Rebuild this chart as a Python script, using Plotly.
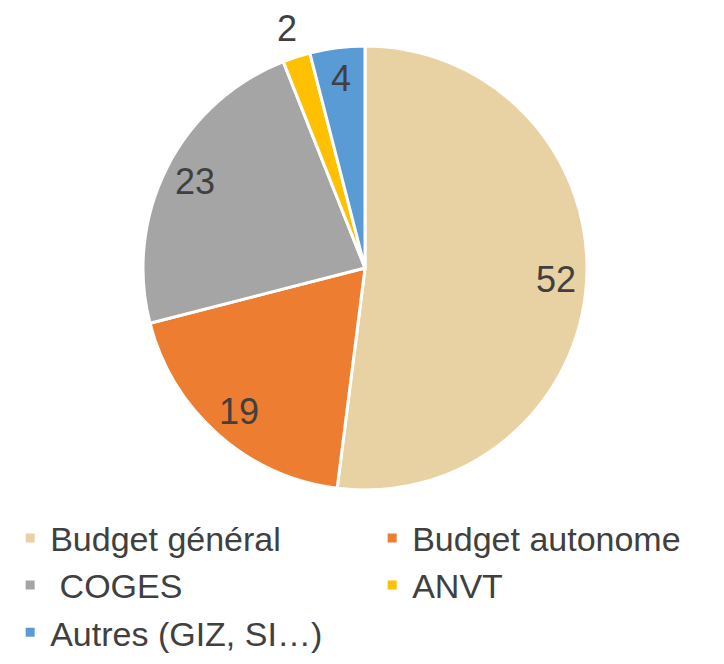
import math
import plotly.graph_objects as go

labels = ["Budget général", "Budget autonome", " COGES", "ANVT", "Autres (GIZ, SI…)"]
values = [52, 19, 23, 2, 4]
colors = ["#E8D2A4", "#ED7D31", "#A5A5A5", "#FFC000", "#5B9BD5"]

W, H = 724, 664
# page body adds an 8px offset; target pie centre on screen is (365, 268)
cx, cy, R = 357, 260, 222
FONT = "Liberation Sans, Arial, sans-serif"
TXT = "#404040"

fig = go.Figure(go.Pie(
    labels=labels,
    values=values,
    sort=False,
    direction="clockwise",
    rotation=0,
    marker=dict(colors=colors, line=dict(color="white", width=3)),
    textinfo="none",
    domain=dict(x=[(cx - R) / W, (cx + R) / W], y=[1 - (cy + R) / H, 1 - (cy - R) / H]),
    hoverinfo="label+value",
))

# value labels placed from the data (angles from cumulative shares)
total = sum(values)
cum = 0
annotations = []
for v in values:
    mid = (cum + v / 2) / total * 2 * math.pi
    cum += v
    f = 0.86 if v / total >= 0.03 else 1.135
    px = cx + f * R * math.sin(mid)
    py = cy - f * R * math.cos(mid)
    annotations.append(dict(
        x=px / W, y=1 - py / H, xref="paper", yref="paper",
        text=str(v), showarrow=False,
        font=dict(family=FONT, size=36, color=TXT),
        xanchor="center", yanchor="middle",
    ))

fig.update_layout(
    width=W, height=H,
    margin=dict(l=0, r=0, t=0, b=0, autoexpand=False),
    paper_bgcolor="white",
    plot_bgcolor="white",
    annotations=annotations,
    showlegend=True,
    legend=dict(
        orientation="h",
        x=0.003, xanchor="left",
        y=0.245, yanchor="top",
        entrywidth=0.5, entrywidthmode="fraction",
        font=dict(family=FONT, size=34, color=TXT),
        traceorder="normal",
        itemclick=False,
        bgcolor="rgba(0,0,0,0)",
    ),
)

fig.write_html("out.html")
